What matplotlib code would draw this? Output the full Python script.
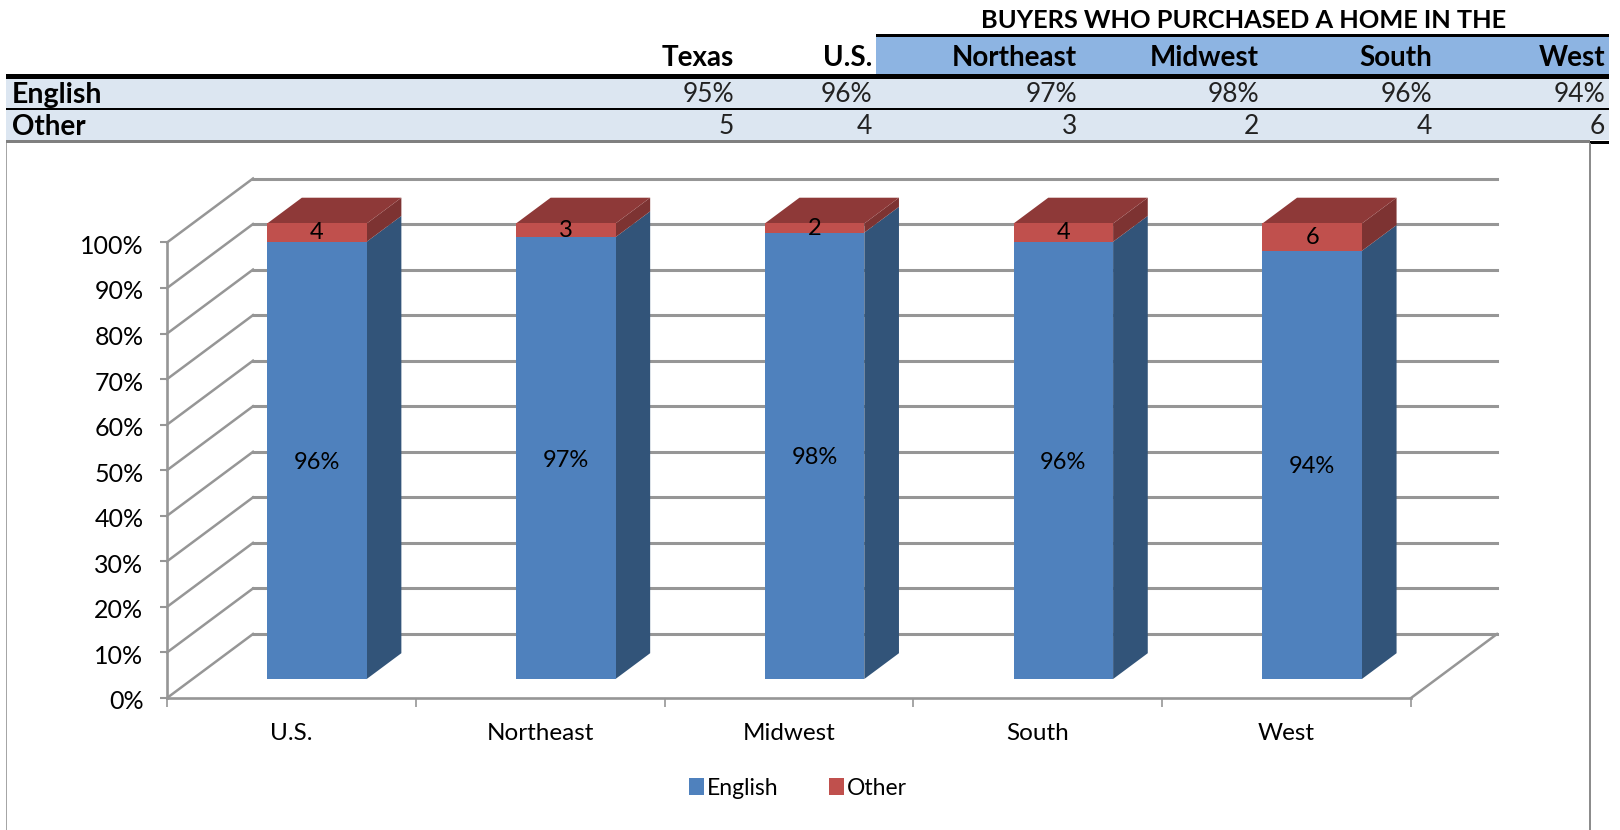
import matplotlib
matplotlib.use("Agg")
import matplotlib.pyplot as plt
from matplotlib.patches import Rectangle
from matplotlib.transforms import ScaledTranslation

plt.rcParams["font.family"] = ["Lato", "DejaVu Sans"]

# Table at the top
table_columns = ["Texas", "U.S.", "Northeast", "Midwest", "South", "West"]
table_english = [95, 96, 97, 98, 96, 94]
table_other = [5, 4, 3, 2, 4, 6]
table_title = "BUYERS WHO PURCHASED A HOME IN THE"

# Chart data
regions = ["U.S.", "Northeast", "Midwest", "South", "West"]
english = [96, 97, 98, 96, 94]
other = [4, 3, 2, 4, 6]
y_ticks = [0, 10, 20, 30, 40, 50, 60, 70, 80, 90, 100]

# Colours
blue_front = "#4F81BD"
blue_side = "#325479"
red_front = "#C0504D"
red_side = "#7D3332"
red_top = "#8E3938"
grid_gray = "#969696"
header_blue = "#8DB4E2"
row_blue = "#DCE6F1"

W, H = 1620, 830
fig = plt.figure(figsize=(W / 100, H / 100), dpi=100)

# Background layer in pixel units for the table and the frame
bg = fig.add_axes([0, 0, 1, 1])
bg.set_xlim(0, W)
bg.set_ylim(H, 0)
bg.axis("off")


def box(x0, y0, x1, y1, color):
    bg.add_patch(Rectangle((x0, y0), x1 - x0, y1 - y0, color=color, lw=0))


box(876, 37, 1609, 74, header_blue)
box(876, 34, 1609, 37, "black")
box(6, 74, 1609, 79, "black")
box(6, 79, 1609, 108, row_blue)
box(6, 108, 1609, 110, "black")
box(6, 110, 1609, 140, row_blue)
box(6, 140, 1590, 143, "#808080")
box(1590, 141, 1609, 144, "black")
box(6, 143, 7, 830, "#a6a6a6")
box(1589, 143, 1591, 830, "#8c8c8c")

col_right = [734, 872, 1077, 1259, 1432, 1605]
for x, name, e, o in zip(col_right, table_columns, table_english, table_other):
    bg.text(x, 58, name, ha="right", va="center", fontsize=20, fontweight="bold")
    bg.text(x, 94, f"{e}%", ha="right", va="center", fontsize=19, color="#222222")
    bg.text(x, 127, str(o), ha="right", va="center", fontsize=19, color="#222222")
bg.text(12, 95, "English", va="center", fontsize=20.5, fontweight="bold")
bg.text(12, 127, "Other", va="center", fontsize=20, fontweight="bold")
bg.text(1243.5, 20, table_title, ha="center", va="center", fontsize=18.3, fontweight="bold")

# Chart axes: the front plane of the fake 3D box
ax = fig.add_axes([167 / W, 1 - 698 / H, (1411 - 167) / W, (698 - 242.5) / H])
ax.patch.set_alpha(0)
ax.set_xlim(0, len(regions))
ax.set_ylim(0, 100)

# Depth offsets of the oblique projection
depth_x = 0.3457
depth_y = 14.05


def proj(x, y, d):
    return x + d * depth_x, y + d * depth_y


def face(points, color, label=None):
    xs, ys = zip(*points)
    return ax.fill(xs, ys, color=color, lw=0, clip_on=False, label=label)[0]


# Back wall and side wall grid
for t in y_ticks:
    x0, y0 = proj(0, t, 1)
    x1, y1 = proj(len(regions), t, 1)
    ax.plot([0, x0], [t, y0], color=grid_gray, lw=1.8, clip_on=False, zorder=1)
    ax.plot([x0, x1], [y0, y1], color=grid_gray, lw=2.2, clip_on=False, zorder=1)
x1, y1 = proj(len(regions), 0, 1)
ax.plot([len(regions), x1], [0, y1], color=grid_gray, lw=1.8, clip_on=False, zorder=1)

# Bars
bar_left = 0.3
bar_width = 0.4
d0, d1 = 0.297, 0.70
label_shift = ScaledTranslation(0, -1.4 / 72, fig.dpi_scale_trans)
handles = []
for i, (e, o) in enumerate(zip(english, other)):
    left = i + bar_left
    right = left + bar_width
    total = e + o
    # side faces
    face([proj(right, 0, d0), proj(right, 0, d1), proj(right, e, d1), proj(right, e, d0)], blue_side)
    face([proj(right, e, d0), proj(right, e, d1), proj(right, total, d1), proj(right, total, d0)], red_side)
    # top face
    face([proj(left, total, d0), proj(right, total, d0), proj(right, total, d1), proj(left, total, d1)], red_top)
    # front faces
    h1 = face([proj(left, 0, d0), proj(right, 0, d0), proj(right, e, d0), proj(left, e, d0)], blue_front, "English")
    h2 = face([proj(left, e, d0), proj(right, e, d0), proj(right, total, d0), proj(left, total, d0)], red_front, "Other")
    if i == 0:
        handles = [h1, h2]
    # value labels
    cx, cy = proj(left + bar_width / 2, e / 2, d0)
    ax.text(cx, cy, f"{e}%", ha="center", va="center", fontsize=17, color="black", zorder=5,
            transform=ax.transData + label_shift)
    cx, cy = proj(left + bar_width / 2, e + o / 2, d0)
    ax.text(cx, cy, str(o), ha="center", va="center", fontsize=17, color="black", zorder=5)

# Axes, ticks and labels
for side in ["top", "right"]:
    ax.spines[side].set_visible(False)
for side in ["left", "bottom"]:
    ax.spines[side].set_color(grid_gray)
    ax.spines[side].set_linewidth(1.9)
ax.set_yticks(y_ticks)
ax.set_yticklabels([f"{t}%" for t in y_ticks])
ax.tick_params(axis="y", length=5, width=1.5, color=grid_gray, pad=12, labelsize=18)
for lab in ax.get_yticklabels():
    lab.set_transform(lab.get_transform() + label_shift)
ax.set_xticks(range(len(regions) + 1))
ax.set_xticklabels([])
ax.tick_params(axis="x", length=6.5, width=1.2, color=grid_gray)
ax.set_xticks([i + 0.5 for i in range(len(regions))], minor=True)
ax.set_xticklabels(regions, minor=True)
ax.tick_params(axis="x", which="minor", length=0, pad=18, labelsize=17.5)

fig.legend(
    handles=handles,
    loc="center",
    bbox_to_anchor=(798 / W, 1 - 788 / H),
    ncol=2,
    frameon=False,
    fontsize=16.5,
    handlelength=0.65,
    handleheight=0.8,
    handletextpad=0.15,
    columnspacing=2.2,
)

fig.savefig("out.png", dpi=100)
